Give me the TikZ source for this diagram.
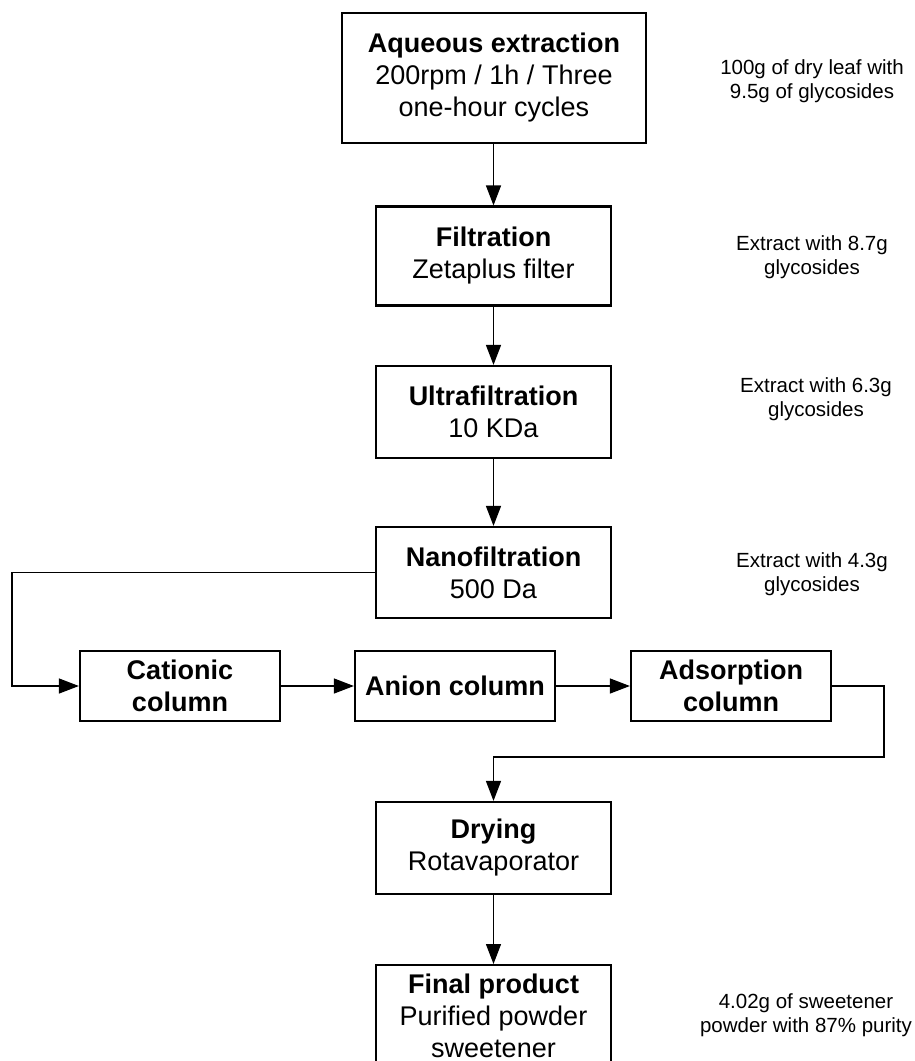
\documentclass[tikz,border=0pt]{standalone}
\usepackage{fontspec}
\setmainfont{Liberation Sans}
\usetikzlibrary{arrows.meta}
\begin{document}
\begin{tikzpicture}[x=1pt,y=-1pt,
  box/.style={draw, line width=2.2pt, inner sep=0pt, align=center, font=\fontsize{27}{32}\selectfont},
  colbox/.style={box, minimum width=200pt, minimum height=70pt, font=\fontsize{27}{32}\selectfont\bfseries},
  stepbox/.style={box, minimum width=235pt},
  side/.style={align=center, inner sep=0pt, font=\fontsize{20.5}{23.5}\selectfont},
  conn/.style={line width=1.3pt},
  arr/.style={conn, -{Triangle[length=20pt,width=15pt]}}]
\path[use as bounding box, fill=white] (0,0) rectangle (915,1061);
\begin{scope}
\clip (0,0) rectangle (915,1061);
\node[box, minimum width=304pt, minimum height=130pt] (aq) at (494,78)
  {\textbf{Aqueous extraction}\\200rpm / 1h / Three\\one-hour cycles};
\node[stepbox, minimum height=99pt] (filt) at (493.5,256)
  {\textbf{Filtration}\\Zetaplus filter};
\node[stepbox, minimum height=92pt] (ultra) at (493.5,412)
  {\textbf{Ultrafiltration}\\10 KDa};
\node[stepbox, minimum height=91pt] (nano) at (493.5,572.5)
  {\textbf{Nanofiltration}\\500 Da};
\node[colbox] (cat) at (180,686) {Cationic\\column};
\node[colbox] (anion) at (455,686) {Anion column};
\node[colbox] (ads) at (731,686) {Adsorption\\column};
\node[stepbox, minimum height=92pt] (dry) at (493.5,848)
  {\textbf{Drying}\\Rotavaporator};
\node[stepbox, anchor=north, inner ysep=8.5pt] (final) at (493.5,964)
  {\textbf{Final product}\\Purified powder\\sweetener};

\node[side] (s1) at (812,81) {100g of dry leaf with\\9.5g of glycosides};
\node[side] (s2) at (812,257) {Extract with 8.7g\\glycosides};
\node[side] (s3) at (816,399) {Extract with 6.3g\\glycosides};
\node[side] (s4) at (812,574) {Extract with 4.3g\\glycosides};
\node[side] (s5) at (806,1015) {4.02g of sweetener\\powder with 87\% purity};

\coordinate (c1) at (12,0);
\coordinate (c2) at (884,757);

\draw[arr] (aq.south -| filt.north) -- (filt.north);
\draw[arr] (filt) -- (ultra);
\draw[arr] (ultra) -- (nano);
\draw[arr] (nano.west) -- (nano.west -| c1) |- (cat.west);
\draw[arr] (cat) -- (anion);
\draw[arr] (anion) -- (ads);
\draw[arr] (ads.east) -| (c2) -| (dry.north);
\draw[arr] (dry) -- (final);
\end{scope}
\end{tikzpicture}
\end{document}
